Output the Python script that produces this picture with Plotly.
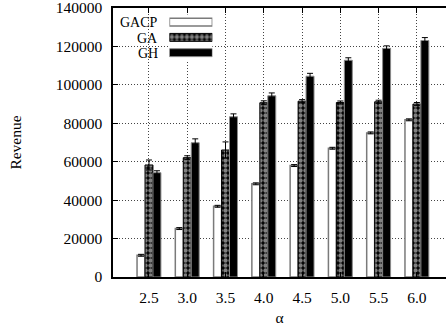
import plotly.graph_objects as go

alpha = [2.5, 3.0, 3.5, 4.0, 4.5, 5.0, 5.5, 6.0]
tick_labels = ["2.5", "3.0", "3.5", "4.0", "4.5", "5.0", "5.5", "6.0"]
y_ticks = [0, 20000, 40000, 60000, 80000, 100000, 120000, 140000]
y_tick_labels = ["0", "20000", "40000", "60000", "80000", "100000", "120000", "140000"]
series_names = ["GACP", "GA", "GH"]
gacp = [11300, 25200, 36800, 48500, 58000, 67000, 75000, 81800]
ga = [58300, 62100, 66100, 90700, 91500, 90800, 91200, 90000]
gh = [54300, 69900, 83400, 94300, 104500, 112800, 119000, 123100]
gacp_err = [500, 500, 500, 500, 500, 500, 500, 500]
ga_err = [2600, 1000, 4200, 1000, 800, 800, 800, 800]
gh_err = [1000, 2000, 1500, 1500, 1500, 1300, 1300, 1500]

W, H = 446, 330
L, R, T, B = 112.5, 0, 7.5, 52.5
PW, PH = W - L - R, H - T - B

def px_x(p):
    return (p - L) / PW

def px_y(p):
    return (H - B - p) / PH

bw = 0.104
FONT = "Liberation Serif, Times New Roman, serif"
FS = 15.5

styles = {
    "GACP": dict(color="white", line=dict(color="#7a7a7a", width=1.5)),
    "GA": dict(color="black", line=dict(color="black", width=1),
               pattern=dict(shape=".", fgcolor="white", bgcolor="black", size=5, solidity=0.6)),
    "GH": dict(color="black", line=dict(color="#8a8a8a", width=1)),
}

fig = go.Figure()
for name, vals, err, off in [("GACP", gacp, gacp_err, -1.5 * bw),
                              ("GA", ga, ga_err, -0.5 * bw),
                              ("GH", gh, gh_err, 0.5 * bw)]:
    fig.add_trace(go.Bar(
        x=alpha, y=vals, name=name, width=bw, offset=off,
        marker=styles[name],
        error_y=dict(type="data", array=err, color="black", thickness=1, width=3),
        showlegend=False,
    ))

# custom legend keys (text left, sample right, as in the reference)
for i, name in enumerate(series_names):
    fig.add_trace(go.Bar(
        x=[1], y=[2 - i], orientation="h", base=0, width=0.52,
        marker=styles[name], xaxis="x2", yaxis="y2", showlegend=False,
        hoverinfo="skip",
    ))

annotations = []
for i, name in enumerate(series_names):
    annotations.append(dict(
        text=name, xref="paper", yref="paper", x=px_x(159), y=px_y(21.7 + 15.5 * i),
        xanchor="right", yanchor="middle", showarrow=False, height=14, borderpad=0,
        font=dict(family=FONT, size=14, color="black"),
    ))

fig.update_layout(
    width=W, height=H,
    margin=dict(l=L, r=R, t=T, b=B, autoexpand=False),
    paper_bgcolor="white", plot_bgcolor="white",
    barmode="overlay",
    font=dict(family=FONT, size=FS, color="black"),
    xaxis=dict(
        range=[2.03, 6.38], tickvals=alpha, ticktext=tick_labels,
        ticks="inside", ticklen=5, tickcolor="black",
        showline=True, linecolor="black", linewidth=1.5, mirror="ticks",
        showgrid=True, gridcolor="#444", griddash="1px,2px", gridwidth=1,
        zeroline=False, ticklabelstandoff=6,
        title=dict(text="α", standoff=7, font=dict(family=FONT, size=FS)),
    ),
    yaxis=dict(
        range=[0, 140000], tickvals=y_ticks, ticktext=y_tick_labels,
        ticks="inside", ticklen=5, tickcolor="black",
        showline=True, linecolor="black", linewidth=1.5, mirror=False,
        showgrid=True, gridcolor="#444", griddash="1px,2px", gridwidth=1,
        zeroline=False, ticklabelstandoff=6, ticklabeloverflow="allow",
        title=dict(text="Revenue", standoff=30, font=dict(family=FONT, size=FS)),
    ),
    xaxis2=dict(domain=[px_x(169), px_x(212)], range=[0, 1], visible=False, fixedrange=True),
    yaxis2=dict(domain=[px_y(60), px_y(14)], range=[-0.5, 2.5], visible=False, fixedrange=True,
                anchor="x2"),
    shapes=[dict(type="rect", xref="paper", yref="paper", layer="between",
                 x0=px_x(113.5), x1=px_x(218), y0=px_y(62), y1=px_y(9),
                 fillcolor="white", line=dict(width=0))],
    annotations=annotations,
)
fig.update_layout(xaxis2_anchor="y2")

fig.write_html("out.html", config={"displayModeBar": False},
               post_script="document.body.style.margin='0';")
